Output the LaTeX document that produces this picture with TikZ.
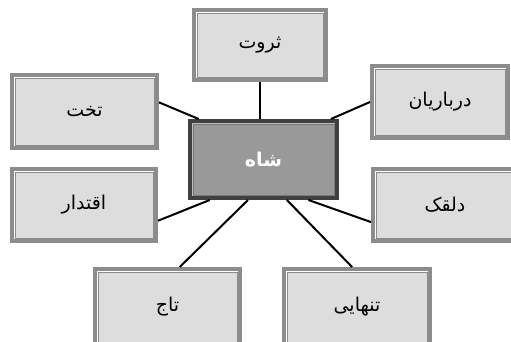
\documentclass[tikz,border=0pt]{standalone}
\usepackage{xcolor}
\usepackage{fontspec}
\usepackage{tikz}
\newfontfamily\arabicfont[Script=Arabic]{DejaVu Sans}
\TeXXeTstate=1
\definecolor{boxgray}{HTML}{8C8C8C}
\definecolor{boxfill}{HTML}{DDDDDD}
\definecolor{shahdark}{HTML}{404040}
\definecolor{shahfill}{HTML}{999999}
\definecolor{shahline}{HTML}{BDBDBD}

\begin{document}
\begin{tikzpicture}[x=1pt,y=-1pt,
    word/.style={preaction={draw=boxgray,line width=10pt},
        preaction={draw=white,line width=2.5pt},
        draw=boxgray,line width=0.8pt,fill=boxfill,outer sep=5pt,
        font=\arabicfont\fontsize{19}{22}\selectfont},
    king/.style={preaction={draw=shahdark,line width=10pt},
        preaction={draw=shahline,line width=2.5pt},
        draw=shahdark!70,line width=0.6pt,fill=shahfill,outer sep=5pt,
        text=white,font=\arabicfont\bfseries\fontsize{19}{22}\selectfont},
    link/.style={line width=2pt}]
    \useasboundingbox (0,0) rectangle (511,341);
    \clip (0,0) rectangle (511,341);
        \node[king,minimum width=141pt,minimum height=71pt] (shah) at (263.5,159.5) {\beginR شاه\endR};
        \node[word,minimum width=126pt,minimum height=64pt] (tharvat) at (260,45) {\beginR ثروت\endR};
        \node[word,minimum width=139pt,minimum height=67pt] (takht) at (84.5,111.5) {\beginR تخت\endR};
        \node[word,minimum width=130pt,minimum height=66pt] (darbarian) at (440,102) {\beginR درباریان\endR};
        \node[word,minimum width=138pt,minimum height=66pt] (eghtedar) at (84,205) {\beginR اقتدار\endR};
        \node[word,minimum width=138pt,minimum height=66pt] (dalghak) at (445,205) {\beginR دلقک\endR};
        \node[word,minimum width=139pt,minimum height=70pt] (taj) at (167.5,307) {\beginR تاج\endR};
        \node[word,minimum width=140pt,minimum height=70pt] (tanhaei) at (357,307) {\beginR تنهایی\endR};
        \draw[link] (tharvat.south) -- (tharvat.south |- shah.north);
        \draw[link] (takht.7) -- (shah.148);
        \draw[link] (darbarian.west) -- (shah.31);
        \draw[link] (eghtedar.348) -- (shah.217);
        \draw[link] (taj.73) -- (shah.249);
        \draw[link] (tanhaei.97) -- (shah.300);
        \draw[link] (dalghak.193) -- (shah.318);
\end{tikzpicture}
\end{document}
